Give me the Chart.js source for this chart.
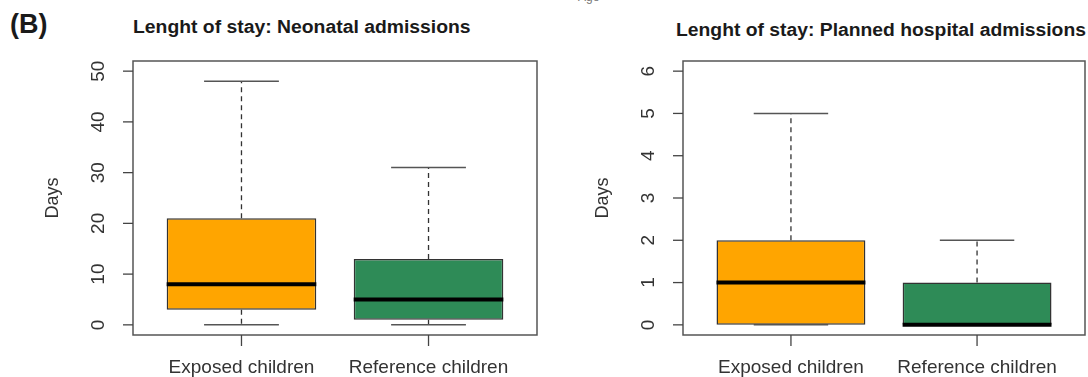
<!DOCTYPE html>
<html>
<head>
<meta charset="utf-8">
<script src="https://cdn.jsdelivr.net/npm/chart.js@4/dist/chart.umd.min.js"></script>
<style>
  html, body { margin: 0; padding: 0; background: #fff; }
  body { width: 1088px; height: 377px; position: relative; overflow: hidden; font-family: "Liberation Sans", Arial, sans-serif; }
  .cv { position: absolute; top: 0; }
  .txt { position: absolute; white-space: nowrap; color: #1a1a1a; font-weight: bold; line-height: 1; transform-origin: 0 0; }
</style>
</head>
<body>
<div class="txt" style="left:10px; top:11px; font-size:27px;">(B)</div>
<div class="txt" style="left:133px; top:18px; font-size:18px; transform:scaleX(1.075);">Lenght of stay: Neonatal admissions</div>
<div class="txt" style="left:676px; top:21px; font-size:18px; transform:scaleX(1.073);">Lenght of stay: Planned hospital admissions</div>
<div class="txt" style="left:578px; top:-9px; font-size:12px; font-weight:normal; color:#777;">Age</div>
<div class="cv" style="left:0; width:544px; height:377px;"><canvas id="c1"></canvas></div>
<div class="cv" style="left:544px; width:544px; height:377px;"><canvas id="c2"></canvas></div>
<script>
// ---- data ----
const categories = ['Exposed children', 'Reference children'];
const boxColors = ['#FFA500', '#2E8B57'];

const neoMin = [0, 0];
const neoQ1 = [3, 1];
const neoMedian = [8, 5];
const neoQ3 = [21, 13];
const neoMax = [48, 31];
const neoTicks = [0, 10, 20, 30, 40, 50];

const planMin = [0, 0];
const planQ1 = [0, 0];
const planMedian = [1, 0];
const planQ3 = [2, 1];
const planMax = [5, 2];
const planTicks = [0, 1, 2, 3, 4, 5, 6];

const FONT = '"Liberation Sans", Arial, sans-serif';

function makeBox(canvasId, mins, q1s, meds, q3s, maxs, yTicks, yMin, yMax, padLeft, padRight) {
  const boxPlugin = {
    id: 'rbox',
    afterDatasetsDraw(chart) {
      const ctx = chart.ctx;
      const x = chart.scales.x, y = chart.scales.y;
      const unit = x.getPixelForValue(2) - x.getPixelForValue(1);
      const ca = chart.chartArea;
      ctx.save();
      categories.forEach((c, i) => {
        const cx = x.getPixelForValue(i + 1);
        const halfBox = unit * 0.4;
        const halfCap = unit * 0.2;
        // whiskers (dashed)
        ctx.strokeStyle = '#333';
        ctx.lineWidth = 1.3;
        ctx.setLineDash([5, 4]);
        ctx.beginPath();
        ctx.moveTo(cx, y.getPixelForValue(q3s[i]));
        ctx.lineTo(cx, y.getPixelForValue(maxs[i]));
        ctx.moveTo(cx, y.getPixelForValue(q1s[i]));
        ctx.lineTo(cx, y.getPixelForValue(mins[i]));
        ctx.stroke();
        ctx.setLineDash([]);
        // caps
        ctx.strokeStyle = '#555';
        ctx.lineWidth = 1.5;
        ctx.beginPath();
        ctx.moveTo(cx - halfCap, y.getPixelForValue(maxs[i]));
        ctx.lineTo(cx + halfCap, y.getPixelForValue(maxs[i]));
        ctx.moveTo(cx - halfCap, y.getPixelForValue(mins[i]));
        ctx.lineTo(cx + halfCap, y.getPixelForValue(mins[i]));
        ctx.stroke();
        // median
        ctx.strokeStyle = '#000';
        ctx.lineWidth = 4;
        ctx.beginPath();
        const my = y.getPixelForValue(meds[i]);
        ctx.moveTo(cx - halfBox, my);
        ctx.lineTo(cx + halfBox, my);
        ctx.stroke();
      });
      // frame
      ctx.strokeStyle = '#555';
      ctx.lineWidth = 1.5;
      ctx.strokeRect(ca.left, ca.top, ca.right - ca.left, ca.bottom - ca.top);
      // y ticks and labels
      ctx.fillStyle = '#333';
      ctx.font = '19px ' + FONT;
      ctx.lineWidth = 1.3;
      ctx.strokeStyle = '#444';
      yTicks.forEach(v => {
        const py = y.getPixelForValue(v);
        ctx.beginPath();
        ctx.moveTo(ca.left - 10, py);
        ctx.lineTo(ca.left, py);
        ctx.stroke();
        ctx.save();
        ctx.translate(ca.left - 34, py);
        ctx.rotate(-Math.PI / 2);
        ctx.textAlign = 'center';
        ctx.textBaseline = 'middle';
        ctx.fillText(String(v), 0, 0);
        ctx.restore();
      });
      // y title
      ctx.save();
      ctx.font = '18px ' + FONT;
      ctx.translate(ca.left - 80, (ca.top + ca.bottom) / 2);
      ctx.rotate(-Math.PI / 2);
      ctx.textAlign = 'center';
      ctx.textBaseline = 'middle';
      ctx.fillText('Days', 0, 0);
      ctx.restore();
      // x ticks and labels
      ctx.font = '19px ' + FONT;
      categories.forEach((c, i) => {
        const px = x.getPixelForValue(i + 1);
        ctx.beginPath();
        ctx.moveTo(px, ca.bottom);
        ctx.lineTo(px, ca.bottom + 11);
        ctx.stroke();
        ctx.textAlign = 'center';
        ctx.textBaseline = 'alphabetic';
        ctx.fillText(c, px, 373);
      });
      ctx.restore();
    }
  };
  return new Chart(document.getElementById(canvasId), {
    type: 'bar',
    data: {
      datasets: [{
        data: categories.map((c, i) => ({ x: i + 1, y: [q1s[i], q3s[i]] })),
        backgroundColor: boxColors,
        borderColor: '#333',
        borderWidth: 1.5,
        borderSkipped: false,
        barPercentage: 0.8,
        categoryPercentage: 1.0
      }]
    },
    options: {
      responsive: true,
      maintainAspectRatio: false,
      animation: false,
      layout: { padding: { left: padLeft, right: padRight, top: 61, bottom: 42 } },
      plugins: { legend: { display: false }, tooltip: { enabled: false } },
      scales: {
        x: {
          type: 'linear', min: 0.42, max: 2.58, display: false, offset: false,
          afterBuildTicks: s => { s.ticks = categories.map((c, i) => ({ value: i + 1 })); }
        },
        y: { type: 'linear', min: yMin, max: yMax, display: false }
      }
    },
    plugins: [boxPlugin]
  });
}

makeBox('c1', neoMin, neoQ1, neoMedian, neoQ3, neoMax, neoTicks, -2, 52, 133, 7);
makeBox('c2', planMin, planQ1, planMedian, planQ3, planMax, planTicks, -0.24, 6.24, 139, 3);
</script>
</body>
</html>
